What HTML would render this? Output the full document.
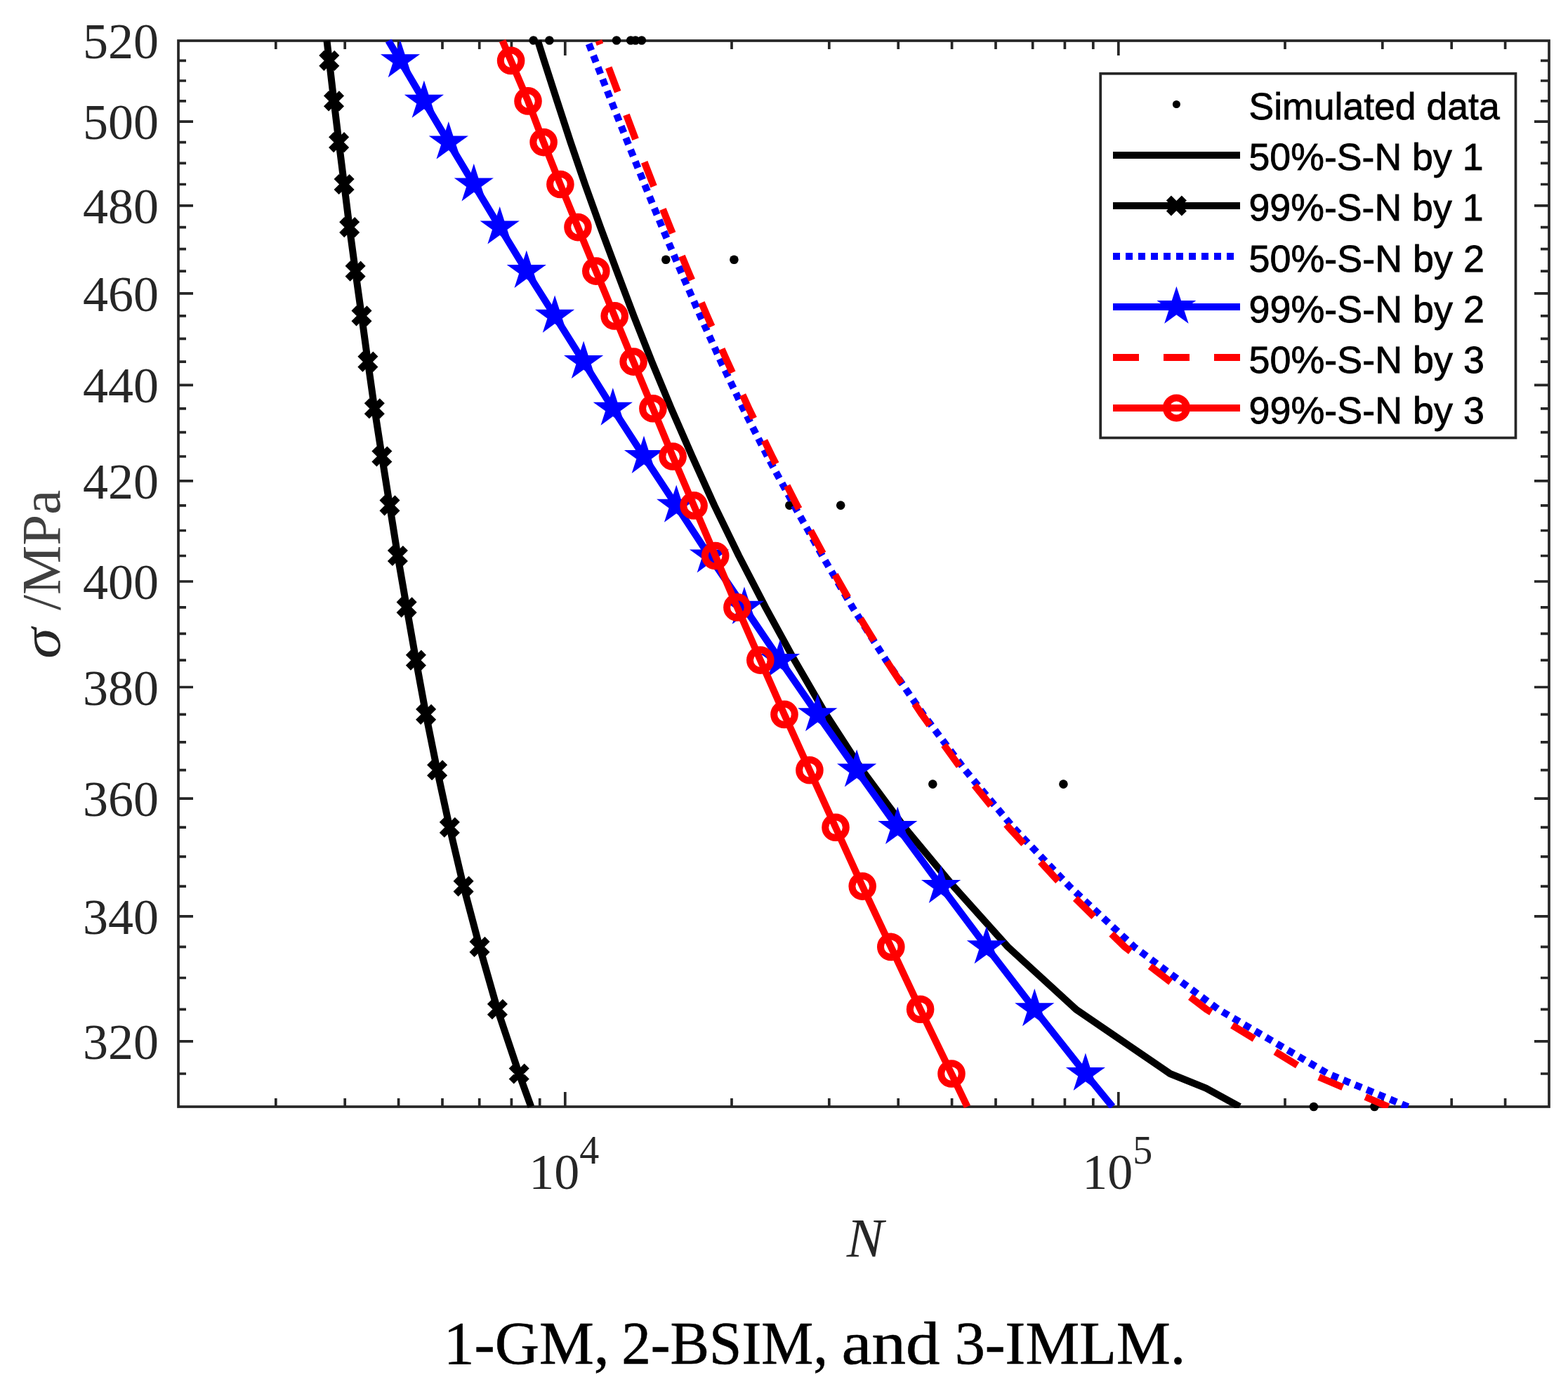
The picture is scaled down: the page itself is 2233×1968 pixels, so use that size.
<!DOCTYPE html>
<html><head><meta charset="utf-8"><title>S-N curves</title>
<style>
html,body{margin:0;padding:0;background:#fff;}
body{width:2233px;height:1968px;overflow:hidden;}
svg{display:block;}
.ser{font-family:"Liberation Serif","Times New Roman",serif;}
.san{font-family:"Liberation Sans",Arial,sans-serif;}
</style></head><body>
<svg width="2233" height="1968" viewBox="0 0 2233 1968">
<defs><clipPath id="pc"><rect x="252" y="56" width="1956" height="1522"/></clipPath></defs>
<rect x="0" y="0" width="2233" height="1968" fill="#fff"/>
<path d="M254,1482.8 H275 M2206,1482.8 H2185 M254,1304.9 H275 M2206,1304.9 H2185 M254,1137.2 H275 M2206,1137.2 H2185 M254,978.5 H275 M2206,978.5 H2185 M254,828.0 H275 M2206,828.0 H2185 M254,684.8 H275 M2206,684.8 H2185 M254,548.3 H275 M2206,548.3 H2185 M254,417.8 H275 M2206,417.8 H2185 M254,292.9 H275 M2206,292.9 H2185 M254,173.1 H275 M2206,173.1 H2185 M254,1529.0 H265 M2206,1529.0 H2194 M254,1437.3 H265 M2206,1437.3 H2194 M254,1392.5 H265 M2206,1392.5 H2194 M254,1348.4 H265 M2206,1348.4 H2194 M254,1262.1 H265 M2206,1262.1 H2194 M254,1219.8 H265 M2206,1219.8 H2194 M254,1178.2 H265 M2206,1178.2 H2194 M254,1096.7 H265 M2206,1096.7 H2194 M254,1056.8 H265 M2206,1056.8 H2194 M254,1017.4 H265 M2206,1017.4 H2194 M254,940.1 H265 M2206,940.1 H2194 M254,902.3 H265 M2206,902.3 H2194 M254,864.9 H265 M2206,864.9 H2194 M254,791.5 H265 M2206,791.5 H2194 M254,755.5 H265 M2206,755.5 H2194 M254,719.9 H265 M2206,719.9 H2194 M254,650.0 H265 M2206,650.0 H2194 M254,615.7 H265 M2206,615.7 H2194 M254,581.8 H265 M2206,581.8 H2194 M254,515.1 H265 M2206,515.1 H2194 M254,482.3 H265 M2206,482.3 H2194 M254,449.9 H265 M2206,449.9 H2194 M254,386.1 H265 M2206,386.1 H2194 M254,354.7 H265 M2206,354.7 H2194 M254,323.6 H265 M2206,323.6 H2194 M254,262.5 H265 M2206,262.5 H2194 M254,232.4 H265 M2206,232.4 H2194 M254,202.6 H265 M2206,202.6 H2194 M254,143.9 H265 M2206,143.9 H2194 M254,115.0 H265 M2206,115.0 H2194 M254,86.4 H265 M2206,86.4 H2194 M804.8,1576 V1555 M804.8,58 V79 M1592.8,1576 V1555 M1592.8,58 V79 M392.8,1576 V1564 M392.8,58 V70 M491.2,1576 V1564 M491.2,58 V70 M567.6,1576 V1564 M567.6,58 V70 M630.0,1576 V1564 M630.0,58 V70 M682.7,1576 V1564 M682.7,58 V70 M728.4,1576 V1564 M728.4,58 V70 M768.7,1576 V1564 M768.7,58 V70 M1042.0,1576 V1564 M1042.0,58 V70 M1180.8,1576 V1564 M1180.8,58 V70 M1279.2,1576 V1564 M1279.2,58 V70 M1355.6,1576 V1564 M1355.6,58 V70 M1418.0,1576 V1564 M1418.0,58 V70 M1470.7,1576 V1564 M1470.7,58 V70 M1516.4,1576 V1564 M1516.4,58 V70 M1556.8,1576 V1564 M1556.8,58 V70 M1830.0,1576 V1564 M1830.0,58 V70 M1968.8,1576 V1564 M1968.8,58 V70 M2067.2,1576 V1564 M2067.2,58 V70 M2143.6,1576 V1564 M2143.6,58 V70" stroke="#262626" stroke-width="3.7" fill="none"/>
<rect x="254" y="58" width="1952" height="1518" stroke="#262626" stroke-width="3.7" fill="none"/>
<g class="ser" font-size="72" fill="#262626" text-anchor="end">
<text x="226" y="1507.8">320</text>
<text x="226" y="1329.9">340</text>
<text x="226" y="1162.2">360</text>
<text x="226" y="1003.5">380</text>
<text x="226" y="853.0">400</text>
<text x="226" y="709.8">420</text>
<text x="226" y="573.3">440</text>
<text x="226" y="442.8">460</text>
<text x="226" y="317.9">480</text>
<text x="226" y="198.1">500</text>
<text x="226" y="83.0">520</text>
</g>
<g class="ser" fill="#262626">
<text x="753.3" y="1693" font-size="72">10</text><text x="825.2" y="1656.5" font-size="56">4</text>
<text x="1541.3" y="1693" font-size="72">10</text><text x="1613.2" y="1656.5" font-size="56">5</text>
</g>
<text class="ser" x="1232" y="1788.6" font-size="79" font-style="italic" fill="#262626" text-anchor="middle">N</text>
<text class="ser" transform="translate(84.5,937.9) rotate(-90) scale(1.12,1)" font-size="79" font-style="italic" fill="#262626">σ</text>
<text class="ser" transform="translate(84.5,869) rotate(-90)" font-size="79" fill="#404040">/MPa</text>
<g class="ser" font-size="87" fill="#000" stroke="#000" stroke-width="0.6">
<text x="631.8" y="1942" textLength="235.9" lengthAdjust="spacingAndGlyphs">1-GM,</text>
<text x="885.2" y="1942" textLength="293.8" lengthAdjust="spacingAndGlyphs">2-BSIM,</text>
<text x="1198.5" y="1942" textLength="140.1" lengthAdjust="spacingAndGlyphs">and</text>
<text x="1359.7" y="1942" textLength="328.6" lengthAdjust="spacingAndGlyphs">3-IMLM.</text>
</g>
<g fill="#000"><circle cx="759.7" cy="57.5" r="6.3"/><circle cx="782.4" cy="57.5" r="6.3"/><circle cx="878.0" cy="57.5" r="6.3"/><circle cx="898.2" cy="57.5" r="6.3"/><circle cx="905.0" cy="57.5" r="6.3"/><circle cx="913.8" cy="57.5" r="6.3"/><circle cx="948.3" cy="369.8" r="6.3"/><circle cx="1045.4" cy="369.8" r="6.3"/><circle cx="1124.3" cy="719.6" r="6.3"/><circle cx="1197.2" cy="719.6" r="6.3"/><circle cx="1328.3" cy="1116.6" r="6.3"/><circle cx="1514.4" cy="1116.6" r="6.3"/><circle cx="1870.9" cy="1576.0" r="6.3"/><circle cx="1957.4" cy="1576.0" r="6.3"/></g>
<path d="M765.9,58.0 L774.9,86.4 L793.4,143.9 L812.6,202.6 L833.1,262.5 L855.1,323.6 L878.4,386.1 L902.6,449.9 L928.3,515.1 L956.0,581.8 L985.8,650.0 L1017.4,719.9 L1052.2,791.5 L1090.2,864.9 L1131.4,940.1 L1176.4,1017.4 L1227.8,1096.7 L1288.1,1178.2 L1357.9,1262.1 L1435.3,1348.4 L1532.3,1437.3 L1666.4,1529.0 L1717.5,1549.6 L1765.4,1576.0" stroke="#000" stroke-width="10" fill="none" stroke-linejoin="round" clip-path="url(#pc)" />
<path d="M465.5,58.0 L468.8,86.4 L475.5,143.9 L482.6,202.6 L490.1,262.5 L497.7,323.6 L506.1,386.1 L515.0,449.9 L523.9,515.1 L533.3,581.8 L543.9,650.0 L555.0,719.9 L566.4,791.5 L579.1,864.9 L592.4,940.1 L606.6,1017.4 L622.6,1096.7 L640.3,1178.2 L660.1,1262.1 L683.0,1348.4 L708.4,1437.3 L739.2,1529.0 L756.3,1576.0" stroke="#000" stroke-width="10" fill="none" stroke-linejoin="round" clip-path="url(#pc)" />
<path d="M457.8,75.4 L479.8,97.4 M457.8,97.4 L479.8,75.4 M464.5,132.9 L486.5,154.9 M464.5,154.9 L486.5,132.9 M471.6,191.6 L493.6,213.6 M471.6,213.6 L493.6,191.6 M479.1,251.5 L501.1,273.5 M479.1,273.5 L501.1,251.5 M486.7,312.6 L508.7,334.6 M486.7,334.6 L508.7,312.6 M495.1,375.1 L517.1,397.1 M495.1,397.1 L517.1,375.1 M504.0,438.9 L526.0,460.9 M504.0,460.9 L526.0,438.9 M512.9,504.1 L534.9,526.1 M512.9,526.1 L534.9,504.1 M522.3,570.8 L544.3,592.8 M522.3,592.8 L544.3,570.8 M532.9,639.0 L554.9,661.0 M532.9,661.0 L554.9,639.0 M544.0,708.9 L566.0,730.9 M544.0,730.9 L566.0,708.9 M555.4,780.5 L577.4,802.5 M555.4,802.5 L577.4,780.5 M568.1,853.9 L590.1,875.9 M568.1,875.9 L590.1,853.9 M581.4,929.1 L603.4,951.1 M581.4,951.1 L603.4,929.1 M595.6,1006.4 L617.6,1028.4 M595.6,1028.4 L617.6,1006.4 M611.6,1085.7 L633.6,1107.7 M611.6,1107.7 L633.6,1085.7 M629.3,1167.2 L651.3,1189.2 M629.3,1189.2 L651.3,1167.2 M649.1,1251.1 L671.1,1273.1 M649.1,1273.1 L671.1,1251.1 M672.0,1337.4 L694.0,1359.4 M672.0,1359.4 L694.0,1337.4 M697.4,1426.3 L719.4,1448.3 M697.4,1448.3 L719.4,1426.3 M728.2,1518.0 L750.2,1540.0 M728.2,1540.0 L750.2,1518.0" stroke="#000" stroke-width="10" fill="none"/>
<path d="M836.9,58.0 L847.9,86.4 L870.4,143.9 L893.8,202.6 L917.9,262.5 L942.9,323.6 L969.4,386.1 L997.3,449.9 L1026.7,515.1 L1058.4,581.8 L1093.0,650.0 L1130.9,719.9 L1171.1,791.5 L1214.1,864.9 L1261.7,940.1 L1314.8,1017.4 L1374.6,1096.7 L1442.9,1178.2 L1522.9,1262.1 L1615.3,1348.4 L1735.0,1437.3 L1891.3,1529.0 L2005.2,1576.0" stroke="#00f" stroke-width="10" fill="none" stroke-linejoin="round" clip-path="url(#pc)" stroke-dasharray="10 8" stroke-dashoffset="13.3"/>
<path d="M553.2,58.0 L570.0,86.4 L603.9,143.9 L638.8,202.6 L674.8,262.5 L711.7,323.6 L749.8,386.1 L790.1,449.9 L831.1,515.1 L872.8,581.8 L917.0,650.0 L963.2,719.9 L1010.0,791.5 L1060.0,864.9 L1111.0,940.1 L1164.3,1017.4 L1220.1,1096.7 L1278.3,1178.2 L1340.1,1262.1 L1404.9,1348.4 L1473.3,1437.3 L1545.9,1529.0 L1584.3,1576.0" stroke="#00f" stroke-width="10" fill="none" stroke-linejoin="round" clip-path="url(#pc)" />
<path d="M570.0,56.9 L576.6,77.2 L598.1,77.2 L580.7,89.8 L587.3,110.2 L570.0,97.6 L552.7,110.2 L559.3,89.8 L541.9,77.2 L563.4,77.2ZM603.9,114.4 L610.5,134.8 L632.0,134.8 L614.6,147.4 L621.2,167.8 L603.9,155.2 L586.6,167.8 L593.2,147.4 L575.8,134.8 L597.3,134.8ZM638.8,173.1 L645.4,193.5 L666.9,193.5 L649.5,206.1 L656.1,226.5 L638.8,213.9 L621.5,226.5 L628.1,206.1 L610.7,193.5 L632.2,193.5ZM674.8,233.0 L681.4,253.4 L702.9,253.4 L685.5,266.0 L692.1,286.4 L674.8,273.8 L657.5,286.4 L664.1,266.0 L646.7,253.4 L668.2,253.4ZM711.7,294.1 L718.3,314.5 L739.8,314.5 L722.4,327.1 L729.0,347.5 L711.7,334.9 L694.4,347.5 L701.0,327.1 L683.6,314.5 L705.1,314.5ZM749.8,356.6 L756.4,377.0 L777.9,377.0 L760.5,389.6 L767.1,409.9 L749.8,397.3 L732.5,409.9 L739.1,389.6 L721.7,377.0 L743.2,377.0ZM790.1,420.4 L796.7,440.8 L818.2,440.8 L800.8,453.4 L807.4,473.7 L790.1,461.1 L772.8,473.7 L779.4,453.4 L762.0,440.8 L783.5,440.8ZM831.1,485.6 L837.7,506.0 L859.2,506.0 L841.8,518.6 L848.4,539.0 L831.1,526.4 L813.8,539.0 L820.4,518.6 L803.0,506.0 L824.5,506.0ZM872.8,552.3 L879.4,572.7 L900.9,572.7 L883.5,585.3 L890.1,605.7 L872.8,593.1 L855.5,605.7 L862.1,585.3 L844.7,572.7 L866.2,572.7ZM917.0,620.5 L923.6,640.9 L945.1,640.9 L927.7,653.5 L934.3,673.9 L917.0,661.3 L899.7,673.9 L906.3,653.5 L888.9,640.9 L910.4,640.9ZM963.2,690.4 L969.8,710.8 L991.3,710.8 L973.9,723.4 L980.5,743.8 L963.2,731.2 L945.9,743.8 L952.5,723.4 L935.1,710.8 L956.6,710.8ZM1010.0,762.0 L1016.6,782.4 L1038.1,782.4 L1020.7,795.0 L1027.3,815.4 L1010.0,802.8 L992.7,815.4 L999.3,795.0 L981.9,782.4 L1003.4,782.4ZM1060.0,835.4 L1066.6,855.8 L1088.1,855.8 L1070.7,868.4 L1077.3,888.7 L1060.0,876.1 L1042.7,888.7 L1049.3,868.4 L1031.9,855.8 L1053.4,855.8ZM1111.0,910.6 L1117.6,931.0 L1139.1,931.0 L1121.7,943.6 L1128.3,964.0 L1111.0,951.4 L1093.7,964.0 L1100.3,943.6 L1082.9,931.0 L1104.4,931.0ZM1164.3,987.9 L1170.9,1008.3 L1192.4,1008.3 L1175.0,1020.8 L1181.6,1041.2 L1164.3,1028.6 L1147.0,1041.2 L1153.6,1020.8 L1136.2,1008.3 L1157.7,1008.3ZM1220.1,1067.2 L1226.7,1087.6 L1248.2,1087.6 L1230.8,1100.2 L1237.4,1120.6 L1220.1,1108.0 L1202.8,1120.6 L1209.4,1100.2 L1192.0,1087.6 L1213.5,1087.6ZM1278.3,1148.7 L1284.9,1169.1 L1306.4,1169.1 L1289.0,1181.7 L1295.6,1202.1 L1278.3,1189.5 L1261.0,1202.1 L1267.6,1181.7 L1250.2,1169.1 L1271.7,1169.1ZM1340.1,1232.6 L1346.7,1253.0 L1368.2,1253.0 L1350.8,1265.5 L1357.4,1285.9 L1340.1,1273.3 L1322.8,1285.9 L1329.4,1265.5 L1312.0,1253.0 L1333.5,1253.0ZM1404.9,1318.9 L1411.5,1339.3 L1433.0,1339.3 L1415.6,1351.9 L1422.2,1372.3 L1404.9,1359.7 L1387.6,1372.3 L1394.2,1351.9 L1376.8,1339.3 L1398.3,1339.3ZM1473.3,1407.8 L1479.9,1428.2 L1501.4,1428.2 L1484.0,1440.8 L1490.6,1461.2 L1473.3,1448.6 L1456.0,1461.2 L1462.6,1440.8 L1445.2,1428.2 L1466.7,1428.2ZM1545.9,1499.5 L1552.5,1519.9 L1574.0,1519.9 L1556.6,1532.5 L1563.2,1552.9 L1545.9,1540.3 L1528.6,1552.9 L1535.2,1532.5 L1517.8,1519.9 L1539.3,1519.9Z" fill="#00f"/>
<path d="M852.5,58.0 L863.1,86.4 L884.6,143.9 L906.7,202.6 L929.9,262.5 L954.2,323.6 L979.9,386.1 L1007.0,449.9 L1035.8,515.1 L1066.5,581.8 L1099.5,650.0 L1135.2,719.9 L1173.7,791.5 L1215.6,864.9 L1261.7,940.1 L1312.8,1017.4 L1370.2,1096.7 L1436.4,1178.2 L1513.9,1262.1 L1601.7,1348.4 L1718.0,1437.3 L1867.1,1529.0 L1977.3,1576.0" stroke="#f00" stroke-width="10" fill="none" stroke-linejoin="round" clip-path="url(#pc)" stroke-dasharray="37 35" stroke-dashoffset="31.3"/>
<path d="M715.6,58.0 L727.6,86.4 L752.0,143.9 L774.1,202.6 L797.9,262.5 L823.0,323.6 L848.8,386.1 L875.2,449.9 L902.1,515.1 L929.9,581.8 L958.1,650.0 L988.1,719.9 L1018.7,791.5 L1049.9,864.9 L1082.8,940.1 L1117.0,1017.4 L1152.9,1096.7 L1190.0,1178.2 L1228.2,1262.1 L1268.8,1348.4 L1310.6,1437.3 L1355.0,1529.0 L1377.5,1576.0" stroke="#f00" stroke-width="10" fill="none" stroke-linejoin="round" clip-path="url(#pc)" />
<g stroke="#f00" stroke-width="10" fill="none"><circle cx="727.6" cy="86.4" r="14.8"/><circle cx="752.0" cy="143.9" r="14.8"/><circle cx="774.1" cy="202.6" r="14.8"/><circle cx="797.9" cy="262.5" r="14.8"/><circle cx="823.0" cy="323.6" r="14.8"/><circle cx="848.8" cy="386.1" r="14.8"/><circle cx="875.2" cy="449.9" r="14.8"/><circle cx="902.1" cy="515.1" r="14.8"/><circle cx="929.9" cy="581.8" r="14.8"/><circle cx="958.1" cy="650.0" r="14.8"/><circle cx="988.1" cy="719.9" r="14.8"/><circle cx="1018.7" cy="791.5" r="14.8"/><circle cx="1049.9" cy="864.9" r="14.8"/><circle cx="1082.8" cy="940.1" r="14.8"/><circle cx="1117.0" cy="1017.4" r="14.8"/><circle cx="1152.9" cy="1096.7" r="14.8"/><circle cx="1190.0" cy="1178.2" r="14.8"/><circle cx="1228.2" cy="1262.1" r="14.8"/><circle cx="1268.8" cy="1348.4" r="14.8"/><circle cx="1310.6" cy="1437.3" r="14.8"/><circle cx="1355.0" cy="1529.0" r="14.8"/></g>
<rect x="1567.2" y="104.8" width="591.3" height="518.7" fill="#fff" stroke="#262626" stroke-width="3.7"/>
<circle cx="1675.4" cy="148.5" r="5.5" fill="#000"/>
<path d="M1585,221 H1766" stroke="#000" stroke-width="10"/>
<path d="M1585,293 H1766" stroke="#000" stroke-width="10"/>
<path d="M1664.4,282.0 L1686.4,304.0 M1664.4,304.0 L1686.4,282.0" stroke="#000" stroke-width="10" fill="none"/>
<path d="M1585,365 H1758" stroke="#00f" stroke-width="10" stroke-dasharray="10 8"/>
<path d="M1585,437 H1766" stroke="#00f" stroke-width="10"/>
<path d="M1675.4,407.7 L1682.0,427.9 L1703.3,427.9 L1686.0,440.5 L1692.6,460.7 L1675.4,448.2 L1658.2,460.7 L1664.8,440.5 L1647.5,427.9 L1668.8,427.9Z" fill="#00f"/>
<path d="M1585,509 H1766" stroke="#f00" stroke-width="10" stroke-dasharray="37 35"/>
<path d="M1585,581 H1766" stroke="#f00" stroke-width="10"/>
<circle cx="1675.4" cy="581" r="14.5" stroke="#f00" stroke-width="10" fill="none"/>
<g class="san" font-size="54.5" fill="#000" stroke="#000" stroke-width="0.8">
<text transform="translate(1778.5,170.2) scale(0.983,1)">Simulated data</text>
<text transform="translate(1778.5,242.3) scale(0.985,1)">50%-S-N by 1</text>
<text transform="translate(1778.5,314.4) scale(0.985,1)">99%-S-N by 1</text>
<text transform="translate(1778.5,386.5) scale(0.989,1)">50%-S-N by 2</text>
<text transform="translate(1778.5,458.6) scale(0.989,1)">99%-S-N by 2</text>
<text transform="translate(1778.5,530.7) scale(0.989,1)">50%-S-N by 3</text>
<text transform="translate(1778.5,602.8) scale(0.989,1)">99%-S-N by 3</text>
</g>
</svg></body></html>
